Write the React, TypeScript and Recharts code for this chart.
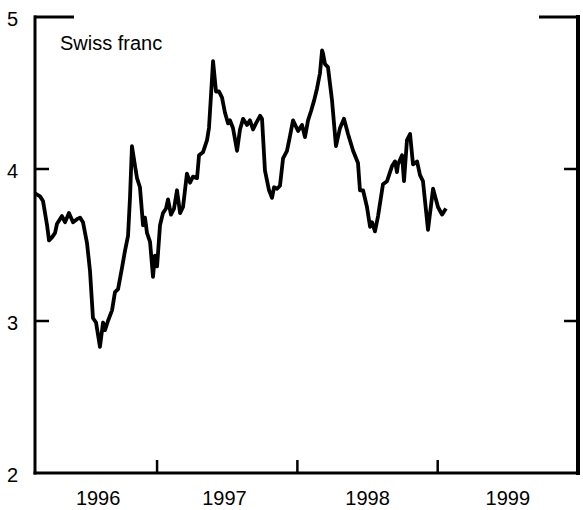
import React from 'react';
import { LineChart, Line, XAxis, YAxis, ReferenceLine } from 'recharts';

const seriesName = 'Swiss franc';

const dates = [
  1996.130, 1996.166, 1996.187, 1996.216, 1996.230, 1996.251, 1996.273, 1996.287, 1996.322, 1996.344,
  1996.372, 1996.401, 1996.429, 1996.451, 1996.472, 1996.501, 1996.522, 1996.543, 1996.565, 1996.579,
  1996.593, 1996.615, 1996.629, 1996.650, 1996.679, 1996.700, 1996.722, 1996.750, 1996.771, 1996.793,
  1996.807, 1996.821, 1996.843, 1996.857, 1996.878, 1996.900, 1996.914, 1996.928, 1996.950, 1996.971,
  1996.985, 1997.000, 1997.021, 1997.042, 1997.064, 1997.078, 1997.099, 1997.121, 1997.142, 1997.164,
  1997.185, 1997.213, 1997.235, 1997.256, 1997.285, 1997.299, 1997.327, 1997.356, 1997.370, 1997.384,
  1997.399, 1997.420, 1997.441, 1997.463, 1997.484, 1997.506, 1997.520, 1997.541, 1997.570, 1997.591,
  1997.613, 1997.641, 1997.662, 1997.684, 1997.705, 1997.734, 1997.748, 1997.769, 1997.798, 1997.819,
  1997.834, 1997.855, 1997.876, 1997.898, 1997.926, 1997.948, 1997.969, 1998.005, 1998.033, 1998.054,
  1998.076, 1998.097, 1998.119, 1998.140, 1998.161, 1998.176, 1998.183, 1998.197, 1998.218, 1998.247,
  1998.275, 1998.304, 1998.332, 1998.361, 1998.397, 1998.432, 1998.446, 1998.468, 1998.496, 1998.518,
  1998.532, 1998.553, 1998.575, 1998.610, 1998.639, 1998.675, 1998.696, 1998.710, 1998.717, 1998.746,
  1998.760, 1998.781, 1998.803, 1998.824, 1998.853, 1998.874, 1998.895, 1998.931, 1998.967, 1999.002,
  1999.031, 1999.059,
];

const values = [
  3.84, 3.82, 3.79, 3.63, 3.53, 3.55, 3.58, 3.64, 3.69, 3.65,
  3.71, 3.65, 3.67, 3.68, 3.65, 3.51, 3.33, 3.02, 2.99, 2.91,
  2.83, 2.99, 2.94, 3.00, 3.07, 3.19, 3.21, 3.35, 3.46, 3.56,
  3.81, 4.15, 4.02, 3.94, 3.88, 3.63, 3.68, 3.58, 3.52, 3.29,
  3.43, 3.36, 3.63, 3.71, 3.74, 3.80, 3.70, 3.74, 3.86, 3.71,
  3.75, 3.97, 3.91, 3.95, 3.94, 4.09, 4.11, 4.19, 4.27, 4.48,
  4.71, 4.51, 4.51, 4.47, 4.37, 4.30, 4.32, 4.27, 4.12, 4.26,
  4.33, 4.29, 4.32, 4.26, 4.30, 4.35, 4.33, 3.99, 3.86, 3.81,
  3.88, 3.87, 3.89, 4.07, 4.12, 4.22, 4.32, 4.25, 4.29, 4.21,
  4.32, 4.38, 4.45, 4.53, 4.63, 4.78, 4.76, 4.69, 4.67, 4.45,
  4.15, 4.27, 4.33, 4.23, 4.12, 4.04, 3.86, 3.86, 3.75, 3.62,
  3.65, 3.59, 3.69, 3.90, 3.92, 4.02, 4.05, 3.98, 4.03, 4.09,
  3.92, 4.19, 4.23, 4.03, 4.05, 3.96, 3.92, 3.60, 3.87, 3.75,
  3.70, 3.74,
];

const xDomain: [number, number] = [1996.13, 2000];
const yDomain: [number, number] = [2, 5];
const yTicks = [2, 3, 4, 5];
const yInnerTicks = [3, 4];
const yearMarks = [1997, 1998, 1999];
const yearLabelPos = [1996.58, 1997.48, 1998.5, 1999.5];
const yearLabels = ['1996', '1997', '1998', '1999'];

const data = dates.map((t, i) => ({ t, v: values[i] }));
const bottomTicks = [...yearLabelPos, ...yearMarks].sort((a, b) => a - b);

const FONT = '"Liberation Sans", Arial, Helvetica, sans-serif';
const AX = { stroke: '#000', strokeWidth: 3, strokeLinecap: 'square' as const };
const Y_TICK_LEN = 14;

const BottomTick = (props: any) => {
  const { x, y, payload } = props;
  const v = payload.value;
  if (yearMarks.includes(v)) {
    return <line x1={x} x2={x} y1={y} y2={y - 13} stroke="#000" strokeWidth={2.5} />;
  }
  const li = yearLabelPos.indexOf(v);
  return (
    <text x={x} y={y + 32} textAnchor="middle" fontSize={20} fontFamily={FONT} fill="#000">
      {yearLabels[li]}
    </text>
  );
};

const LeftTick = (props: any) => {
  const { x, y, payload } = props;
  return (
    <text x={x - 17} y={y + 9} textAnchor="end" fontSize={20} fontFamily={FONT} fill="#000">
      {payload.value}
    </text>
  );
};

const EmptyTick = () => <g />;

const TopTick = (props: any) => {
  const { x, y, payload } = props;
  const v = payload.value;
  const left = v === xDomain[0];
  return (
    <path
      d={left ? `M${x - 1},${y}H${x + 39}` : `M${x - 39},${y}H${x + 2}`}
      stroke="#000"
      strokeWidth={3}
      fill="none"
    />
  );
};

const InwardTicks = (props: any) => {
  const { x1, x2, y1 } = props;
  const l = Math.min(x1, x2);
  const r = Math.max(x1, x2);
  return (
    <path
      d={`M${l},${y1}h${Y_TICK_LEN}M${r},${y1}h${-Y_TICK_LEN}`}
      stroke="#000"
      strokeWidth={2.5}
      fill="none"
    />
  );
};

export default function App() {
  return (
    <div style={{ position: 'absolute', left: 0, top: 0, width: 583, height: 510, background: '#fff' }}>
      <LineChart width={583} height={510} data={data} margin={{ top: 16, right: 0, bottom: 0, left: 0 }}>
        <XAxis
          dataKey="t"
          type="number"
          domain={xDomain}
          allowDataOverflow
          ticks={bottomTicks}
          interval={0}
          tickSize={0}
          tickMargin={0}
          tickLine={false}
          axisLine={AX}
          height={37}
          tick={<BottomTick />}
        />
        <XAxis
          xAxisId="top"
          orientation="top"
          dataKey="t"
          type="number"
          domain={xDomain}
          allowDataOverflow
          ticks={xDomain}
          interval={0}
          tickSize={0}
          tickMargin={0}
          tickLine={false}
          axisLine={false}
          height={1}
          tick={<TopTick />}
        />
        <YAxis
          type="number"
          domain={yDomain}
          ticks={yTicks}
          interval={0}
          tickSize={0}
          tickMargin={0}
          tickLine={false}
          axisLine={AX}
          width={35}
          tick={<LeftTick />}
        />
        <YAxis
          yAxisId="right"
          orientation="right"
          type="number"
          domain={yDomain}
          ticks={yTicks}
          interval={0}
          tickSize={0}
          tickMargin={0}
          tickLine={false}
          axisLine={{ stroke: '#000', strokeWidth: 4, strokeLinecap: 'square' }}
          width={5}
          tick={<EmptyTick />}
        />
        {yInnerTicks.map((v) => (
          <ReferenceLine key={v} y={v} stroke="#000" shape={<InwardTicks />} />
        ))}
        <Line
          dataKey="v"
          name={seriesName}
          stroke="#000"
          strokeWidth={3.8}
          strokeLinejoin="round"
          dot={false}
          isAnimationActive={false}
        />
      </LineChart>
      <svg width={583} height={510} style={{ position: 'absolute', left: 0, top: 0, pointerEvents: 'none' }}>
        <text x={60} y={50} fontSize={20} fontFamily={FONT} fill="#000">
          {seriesName}
        </text>
      </svg>
    </div>
  );
}
